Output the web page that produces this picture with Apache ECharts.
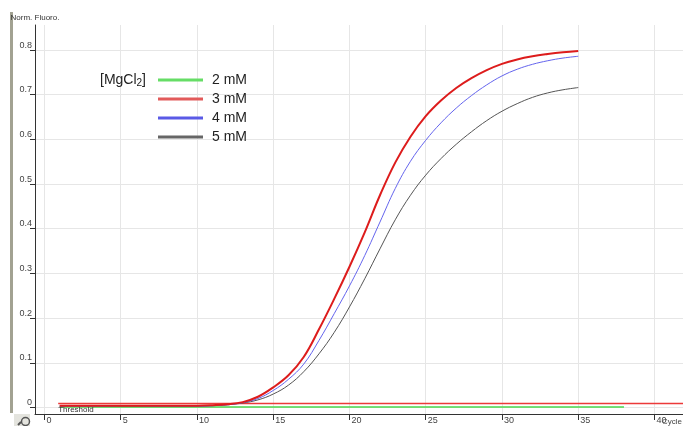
<!DOCTYPE html>
<html>
<head>
<meta charset="utf-8">
<script src="https://cdn.jsdelivr.net/npm/echarts@6/dist/echarts.min.js"></script>
<style>html,body{margin:0;padding:0;background:#fff;}#c{width:683px;height:426px;}</style>
</head>
<body>
<div id="c"></div>
<script>
// ---- data ----
const cycles = [1,2,3,4,5,6,7,8,9,10,11,12,13,14,15,16,17,18,19,20,21,22,23,24,25,26,27,28,29,30,31,32,33,34,35];
const mM3 = [0.004,0.004,0.004,0.004,0.004,0.004,0.004,0.004,0.004,0.004,0.005,0.007,0.012,0.024,0.045,0.072,0.113,0.175,0.243,0.315,0.392,0.475,0.548,0.606,0.652,0.687,0.715,0.737,0.755,0.769,0.779,0.786,0.791,0.795,0.798];
const mM4 = [0.003,0.003,0.003,0.003,0.004,0.004,0.003,0.003,0.003,0.003,0.004,0.006,0.011,0.020,0.038,0.063,0.097,0.150,0.210,0.272,0.340,0.415,0.490,0.551,0.598,0.637,0.670,0.698,0.722,0.742,0.757,0.768,0.776,0.782,0.786];
const mM5 = [0.003,0.003,0.003,0.003,0.003,0.003,0.003,0.003,0.003,0.003,0.004,0.006,0.010,0.017,0.030,0.050,0.080,0.120,0.168,0.225,0.288,0.355,0.420,0.475,0.520,0.557,0.589,0.617,0.642,0.663,0.680,0.694,0.704,0.711,0.716];
const greenCycles = [1,2,3,4,5,6,7,8,9,10,11,12,13,14,15,16,17,18,19,20,21,22,23,24,25,26,27,28,29,30,31,32,33,34,35,36,37,38];
const mM2 = [0.001,0.001,0.001,0.001,0.001,0.001,0.001,0.001,0.001,0.001,0.001,0.001,0.001,0.001,0.001,0.001,0.001,0.001,0.001,0.001,0.001,0.001,0.001,0.001,0.001,0.001,0.001,0.001,0.001,0.001,0.001,0.001,0.001,0.001,0.001,0.001,0.001,0.001];
const thresholdValue = 0.009;
const thresholdStart = 0.9;
const xTicks = [0,5,10,15,20,25,30,35,40];
const yTicks = [0,0.1,0.2,0.3,0.4,0.5,0.6,0.7,0.8];
const seriesNames = ['2 mM','3 mM','4 mM','5 mM'];

const xMin = -0.62, xMax = 41.87, yMin = -0.0146, yMax = 0.856;
const pair = (xs, ys) => xs.map((x, i) => [x, ys[i]]);
const font = 'Liberation Sans, Arial, sans-serif';

const chart = echarts.init(document.getElementById('c'), null, {renderer: 'canvas'});
chart.setOption({
  animation: false,
  backgroundColor: '#fff',
  textStyle: {fontFamily: font},
  grid: {left: 35, right: 0, top: 25, bottom: 12, containLabel: false, outerBoundsMode: 'none'},
  title: {
    text: '[MgCl{s|2}]', left: 95, top: 67,
    textStyle: {fontFamily: font, fontSize: 14, fontWeight: 'normal', color: '#222',
      rich: {s: {fontFamily: font, fontSize: 10, color: '#222', padding: [6, 0, 0, 0]}}}
  },
  legend: {
    orient: 'vertical', left: 153, top: 68, itemWidth: 45, itemHeight: 3, itemGap: 5,
    icon: 'rect',
    textStyle: {fontFamily: font, fontSize: 14, lineHeight: 14, color: '#222', padding: [0, 0, 0, 4]},
    data: [
      {name: '2 mM', itemStyle: {color: '#66dd66'}},
      {name: '3 mM', itemStyle: {color: '#e25a5a'}},
      {name: '4 mM', itemStyle: {color: '#5a5ae6'}},
      {name: '5 mM', itemStyle: {color: '#666666'}}
    ]
  },
  xAxis: {
    type: 'value', min: xMin, max: xMax,
    name: 'Cycle', nameLocation: 'end', nameGap: -21, nameMoveOverlap: false,
    nameTextStyle: {fontFamily: font, fontSize: 8, color: '#444', align: 'left', verticalAlign: 'top', padding: [4, 0, 0, 0]},
    axisLine: {show: true, onZero: false, lineStyle: {color: '#333', width: 1}},
    axisTick: {show: true, inside: false, length: 6, customValues: xTicks, lineStyle: {color: '#333'}},
    axisLabel: {customValues: xTicks, margin: 2, align: 'left', padding: [0, 0, 0, 2], fontSize: 9, color: '#444',
      showMinLabel: true, showMaxLabel: true},
    splitLine: {show: true, lineStyle: {color: '#e6e6e6', width: 1}}
  },
  yAxis: {
    type: 'value', min: yMin, max: yMax,
    name: 'Norm. Fluoro.', nameLocation: 'end', nameGap: 3, nameMoveOverlap: false,
    nameTextStyle: {fontFamily: font, fontSize: 8, color: '#333', align: 'center', padding: [0, 0, 0, 0]},
    axisLine: {show: true, onZero: false, lineStyle: {color: '#333', width: 1}},
    axisTick: {show: true, length: 5, customValues: yTicks, lineStyle: {color: '#333'}},
    axisLabel: {customValues: yTicks, margin: 3, fontSize: 9, color: '#444', verticalAlign: 'bottom', lineHeight: 10,
      formatter: v => (v === 0 ? '0' : v.toFixed(1))},
    splitLine: {show: true, lineStyle: {color: '#e6e6e6', width: 1}}
  },
  graphic: [
    {type: 'rect', left: 10, top: 12, shape: {width: 3, height: 401}, style: {fill: '#a2a292'}, silent: true},
    {type: 'rect', left: 14, top: 414, shape: {width: 16, height: 12}, style: {fill: '#e4e4de'}, silent: true},
    {type: 'circle', left: 19, top: 415, shape: {r: 4}, style: {fill: 'none', stroke: '#555', lineWidth: 1.5}, silent: true},
    {type: 'line', shape: {x1: 18, y1: 425, x2: 21, y2: 422}, style: {stroke: '#555', lineWidth: 2}, silent: true}
  ],
  series: [
    {name: '2 mM', type: 'line', data: pair(greenCycles, mM2), showSymbol: false, symbol: 'none',
      lineStyle: {color: '#4cd64c', width: 1.5}, itemStyle: {color: '#66dd66'}, z: 2},
    {name: 'Threshold', type: 'line', symbol: 'circle', symbolSize: 0.1, showSymbol: true,
      data: [
        {value: [thresholdStart, thresholdValue],
         label: {show: true, formatter: 'Threshold', position: [0, 2], fontFamily: font, fontSize: 8, color: '#333'}},
        {value: [xMax, thresholdValue]}
      ],
      lineStyle: {color: '#ec3a3a', width: 1.5, opacity: 1}, itemStyle: {color: '#ec3a3a'}, z: 3},
    {name: '5 mM', type: 'line', data: pair(cycles, mM5), smooth: 0.4, showSymbol: false, symbol: 'none',
      lineStyle: {color: '#555555', width: 1}, itemStyle: {color: '#666666'}, z: 4},
    {name: '4 mM', type: 'line', data: pair(cycles, mM4), smooth: 0.4, showSymbol: false, symbol: 'none',
      lineStyle: {color: '#6464ee', width: 1}, itemStyle: {color: '#5a5ae6'}, z: 5},
    {name: '3 mM', type: 'line', data: pair(cycles, mM3), smooth: 0.4, showSymbol: false, symbol: 'none',
      lineStyle: {color: '#dd1c1c', width: 2}, itemStyle: {color: '#e25a5a'}, z: 6}
  ]
});
</script>
</body>
</html>
